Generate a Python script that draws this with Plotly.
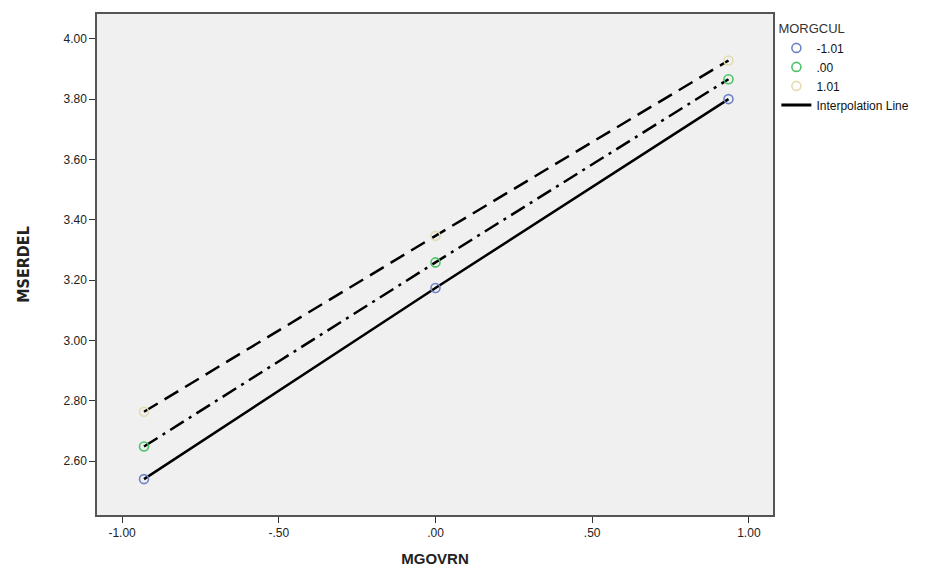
import plotly.graph_objects as go

x_vals = [-0.93, 0.0, 0.935]
groups = ["-1.01", ".00", "1.01"]
y_low = [2.541, 3.174, 3.800]
y_mid = [2.649, 3.259, 3.866]
y_high = [2.764, 3.347, 3.928]
series = [y_low, y_mid, y_high]
marker_colors = ["#6f84c8", "#4cc466", "#e3dcb0"]
dashes = ["solid", "16px,6px,3px,6px", "16px,8px"]

x_ticks = [-1.0, -0.5, 0.0, 0.5, 1.0]
x_tick_text = ["-1.00", "-.50", ".00", ".50", "1.00"]
y_ticks = [2.6, 2.8, 3.0, 3.2, 3.4, 3.6, 3.8, 4.0]
y_tick_text = ["2.60", "2.80", "3.00", "3.20", "3.40", "3.60", "3.80", "4.00"]

fig = go.Figure()
for ys, d in zip(series, dashes):
    fig.add_trace(go.Scatter(x=x_vals, y=ys, mode="lines",
                             line=dict(color="black", width=2.5, dash=d),
                             showlegend=False, hoverinfo="skip"))
for name, ys, c in zip(groups, series, marker_colors):
    fig.add_trace(go.Scatter(x=x_vals, y=ys, mode="markers", name=name,
                             marker=dict(symbol="circle-open", size=9, color=c,
                                         line=dict(width=1.6, color=c))))
fig.add_trace(go.Scatter(x=[None], y=[None], mode="lines", name="Interpolation Line",
                         line=dict(color="black", width=3)))

fig.update_layout(
    width=942, height=561,
    margin=dict(l=89, r=177, t=4, b=53),
    paper_bgcolor="white",
    plot_bgcolor="#f0f0f0",
    font=dict(family="Liberation Sans, Arial", size=12, color="#222"),
    legend=dict(
        title=dict(text="MORGCUL", font=dict(size=13, color="#333")),
        x=1.005, xanchor="left", y=0.995, yanchor="top",
        font=dict(size=12, color="#111"),
        itemwidth=30, tracegroupgap=0,
        bgcolor="rgba(0,0,0,0)",
    ),
    xaxis=dict(
        range=[-1.08, 1.077],
        tickvals=x_ticks, ticktext=x_tick_text,
        ticks="outside", ticklen=6, tickcolor="#333",
        showgrid=False, zeroline=False,
        showline=True, linecolor="#555", linewidth=1.5, mirror=True,
        title=dict(text="<b>MGOVRN</b>", font=dict(size=15, color="#222"), standoff=14),
    ),
    yaxis=dict(
        range=[2.422, 4.082],
        tickvals=y_ticks, ticktext=y_tick_text,
        ticks="outside", ticklen=6, tickcolor="#333",
        showgrid=False, zeroline=False,
        showline=True, linecolor="#555", linewidth=1.5, mirror=True,
        title=dict(text="<b>MSERDEL</b>",
                   font=dict(family="Liberation Sans Narrow, DejaVu Sans Condensed, Arial", size=16, color="#222"),
                   standoff=30),
    ),
)

fig.write_html("out.html")
